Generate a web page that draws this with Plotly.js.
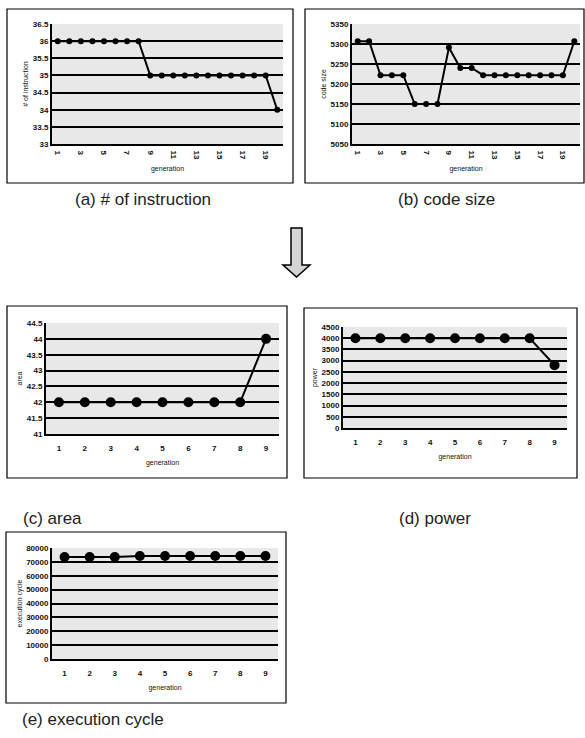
<!DOCTYPE html>
<html>
<head>
<meta charset="utf-8">
<script src="https://cdn.plot.ly/plotly-3.0.1.min.js"></script>
<style>html,body{margin:0;padding:0;background:#fff;}#chart{width:585px;height:738px;}</style>
</head>
<body>
<div id="chart"></div>
<script>
// ---- data ----
const generations20 = [1,2,3,4,5,6,7,8,9,10,11,12,13,14,15,16,17,18,19,20];
const instructionCount = [36,36,36,36,36,36,36,36,35,35,35,35,35,35,35,35,35,35,35,34];
const codeSize = [5307,5307,5222,5222,5222,5150,5150,5150,5291,5240,5240,5222,5222,5222,5222,5222,5222,5222,5222,5307];
const generations9 = [1,2,3,4,5,6,7,8,9];
const area = [42,42,42,42,42,42,42,42,44];
const power = [4000,4000,4000,4000,4000,4000,4000,4000,2800];
const executionCycle = [73500,73500,73500,74200,74200,74200,74200,74200,74200];
const oddTicks = [1,3,5,7,9,11,13,15,17,19];
const captions = ["(a) # of instruction","(b) code size","(c) area","(d) power","(e) execution cycle"];
const yTitles = ["# of instruction","code size","area","power","execution cycle"];
const xTitle = "generation";

// ---- helpers (pixel -> paper) ----
const W = 585, H = 738;
const px = v => v / W;
const py = v => 1 - v / H;

const FONT = "Liberation Sans, Arial, sans-serif";
const tickFont = {family: FONT, size: 8, color: "#111", weight: "bold"};
const titleFont = {family: FONT, size: 7, color: "#111"};

function xax(domain, anchor, n, rotated) {
  const a = {
    domain: domain, anchor: anchor,
    range: [0.5, n + 0.5],
    showgrid: false, zeroline: false,
    showline: true, linecolor: "#000", linewidth: 2,
    ticks: "", tickfont: tickFont,
    title: {text: xTitle, font: titleFont, standoff: rotated ? 7 : 9},
    ticklabelstandoff: rotated ? 3 : 5,
    fixedrange: true
  };
  a.tickmode = "array";
  if (rotated) { a.tickvals = oddTicks; a.tickangle = 90; }
  else { a.tickvals = generations9; a.tickangle = 0; }
  return a;
}
function yax(domain, anchor, range, dtick, title) {
  return {
    domain: domain, anchor: anchor, range: range, dtick: dtick, tick0: range[0],
    showgrid: true, gridcolor: "#000", gridwidth: 2,
    zeroline: false, showline: true, linecolor: "#000", linewidth: 2,
    ticks: "", tickfont: tickFont, tickformat: "d",
    title: {text: title, font: titleFont, standoff: 3},
    fixedrange: true
  };
}

const lineStyle = {color: "#000", width: 2};
const traces = [
  {x: generations20, y: instructionCount, xaxis: "x", yaxis: "y", mode: "lines+markers",
   line: lineStyle, marker: {color: "#000", size: 6}},
  {x: generations20, y: codeSize, xaxis: "x2", yaxis: "y2", mode: "lines+markers",
   line: lineStyle, marker: {color: "#000", size: 6}},
  {x: generations9, y: area, xaxis: "x3", yaxis: "y3", mode: "lines+markers",
   line: lineStyle, marker: {color: "#000", size: 10}},
  {x: generations9, y: power, xaxis: "x4", yaxis: "y4", mode: "lines+markers",
   line: lineStyle, marker: {color: "#000", size: 10}},
  {x: generations9, y: executionCycle, xaxis: "x5", yaxis: "y5", mode: "lines+markers",
   line: lineStyle, marker: {color: "#000", size: 10}}
];

const yA = yax([py(144), py(24)], "x", [33, 36.5], 0.5, yTitles[0]);
yA.tickformat = "";
const yC = yax([py(434), py(323)], "x3", [41, 44.5], 0.5, yTitles[2]);
yC.tickformat = "";

const layout = {
  width: W, height: H,
  margin: {l: 0, r: 0, t: 0, b: 0},
  paper_bgcolor: "#fff", plot_bgcolor: "#e8e8e8",
  showlegend: false,
  font: {family: FONT, color: "#111"},
  xaxis:  xax([px(52), px(283)], "y", 20, true),
  yaxis:  yA,
  xaxis2: xax([px(352), px(580)], "y2", 20, true),
  yaxis2: yax([py(144), py(24)], "x2", [5050, 5350], 50, yTitles[1]),
  xaxis3: xax([px(46), px(279)], "y3", 9, false),
  yaxis3: yC,
  xaxis4: xax([px(343), px(567)], "y4", 9, false),
  yaxis4: yax([py(428), py(327)], "x4", [0, 4500], 500, yTitles[3]),
  xaxis5: xax([px(52), px(278)], "y5", 9, false),
  yaxis5: yax([py(659), py(548)], "x5", [0, 80000], 10000, yTitles[4]),
  shapes: [
    {type: "rect", xref: "paper", yref: "paper", x0: px(7), x1: px(293), y0: py(183), y1: py(9), line: {color: "#000", width: 1.2}},
    {type: "rect", xref: "paper", yref: "paper", x0: px(305), x1: px(584), y0: py(183), y1: py(9), line: {color: "#000", width: 1.2}},
    {type: "rect", xref: "paper", yref: "paper", x0: px(7), x1: px(287), y0: py(478), y1: py(306), line: {color: "#000", width: 1.2}},
    {type: "rect", xref: "paper", yref: "paper", x0: px(304), x1: px(577), y0: py(478), y1: py(308), line: {color: "#000", width: 1.2}},
    {type: "rect", xref: "paper", yref: "paper", x0: px(6), x1: px(286), y0: py(703), y1: py(532), line: {color: "#000", width: 1.2}},
    {type: "path", xref: "paper", yref: "paper",
     path: "M" + px(291) + "," + py(228) + " L" + px(302) + "," + py(228) + " L" + px(302) + "," + py(265) +
           " L" + px(310) + "," + py(265) + " L" + px(296.5) + "," + py(277) + " L" + px(283) + "," + py(265) +
           " L" + px(291) + "," + py(265) + " Z",
     fillcolor: "#d4d4d4", line: {color: "#000", width: 1.5}}
  ],
  annotations: [
    {text: captions[0], xref: "paper", yref: "paper", x: px(143), y: py(200), xanchor: "center", yanchor: "middle", showarrow: false, font: {family: FONT, size: 17, color: "#222"}},
    {text: captions[1], xref: "paper", yref: "paper", x: px(447), y: py(200), xanchor: "center", yanchor: "middle", showarrow: false, font: {family: FONT, size: 17, color: "#222"}},
    {text: captions[2], xref: "paper", yref: "paper", x: px(21), y: py(518), xanchor: "left", yanchor: "middle", showarrow: false, font: {family: FONT, size: 17, color: "#222"}},
    {text: captions[3], xref: "paper", yref: "paper", x: px(397), y: py(518), xanchor: "left", yanchor: "middle", showarrow: false, font: {family: FONT, size: 17, color: "#222"}},
    {text: captions[4], xref: "paper", yref: "paper", x: px(20), y: py(719), xanchor: "left", yanchor: "middle", showarrow: false, font: {family: FONT, size: 17, color: "#222"}}
  ]
};

Plotly.newPlot("chart", traces, layout, {staticPlot: true, displayModeBar: false});
</script>
</body>
</html>
